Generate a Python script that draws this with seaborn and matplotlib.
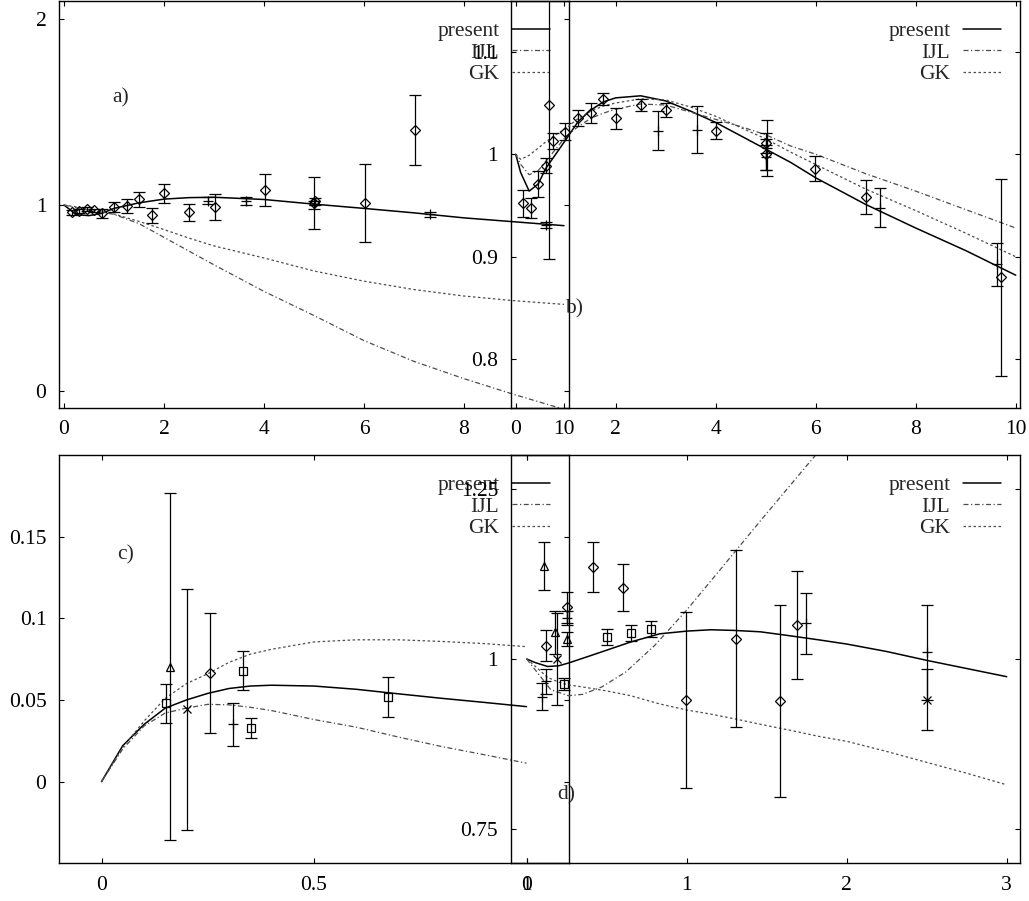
import numpy as np
import matplotlib
matplotlib.use("Agg")
import matplotlib.pyplot as plt
import seaborn as sns

sns.set_style("ticks")
plt.rcParams['font.family'] = ['Liberation Serif', 'DejaVu Serif']
FS = 15.5
plt.rcParams['font.size'] = FS

# ---- panel a) ----
A_X = [0, 0.25, 0.5, 0.75, 1, 1.5, 2, 2.5, 3, 4, 5, 6, 7, 8, 9, 10]
A_PRESENT = [1.0, 0.948, 0.943, 0.955, 0.982, 1.012, 1.032, 1.040, 1.042, 1.03, 1.005, 0.982, 0.958, 0.931, 0.91, 0.889]
A_IJL = [1.0, 0.985, 0.972, 0.962, 0.95, 0.9, 0.826, 0.752, 0.678, 0.535, 0.405, 0.27, 0.158, 0.065, -0.02, -0.1]
A_GK = [1.0, 0.99, 0.977, 0.965, 0.952, 0.912, 0.868, 0.822, 0.78, 0.715, 0.645, 0.59, 0.545, 0.51, 0.485, 0.465]
A_PX = [0.15, 0.3, 0.45, 0.6, 0.75, 1.0, 1.25, 1.5, 1.76, 2.0, 2.5, 2.87, 3.01, 3.63, 4.01, 5.0, 5.0, 5.02, 6.01, 7.01, 7.31, 9.64]
A_PY = [0.96, 0.968, 0.977, 0.971, 0.955, 0.99, 0.995, 1.03, 0.946, 1.063, 0.96, 1.023, 0.99, 1.023, 1.081, 1.01, 1.0, 1.02, 1.012, 1.404, 0.95, 0.892]
A_PE = [0.012, 0.012, 0.01, 0.01, 0.025, 0.025, 0.038, 0.04, 0.04, 0.052, 0.047, 0.018, 0.07, 0.022, 0.085, 0.14, 0.02, 0.02, 0.21, 0.19, 0.015, 0.015]
A_PM = ['D'] * 11 + ['+', 'D', '+', 'D', 'D', '+', 'D', 'D', 'D', '+', '+']

# ---- panel b) ----
B_X = [0, 0.1, 0.27, 0.45, 0.6, 0.8, 1.0, 1.25, 1.5, 1.75, 2.0, 2.5, 3.0, 3.5, 4.0, 4.5, 5.0, 5.5, 6.0, 7.0, 8.0, 9.0, 10.0]
B_PRESENT = [1.0, 0.982, 0.964, 0.971, 0.986, 1.0, 1.014, 1.032, 1.043, 1.051, 1.055, 1.057, 1.052, 1.042, 1.031, 1.018, 1.005, 0.992, 0.977, 0.951, 0.928, 0.906, 0.882]
B_IJL = [1.0, 0.99, 0.98, 0.984, 0.993, 1.005, 1.017, 1.027, 1.035, 1.04, 1.044, 1.049, 1.048, 1.041, 1.034, 1.027, 1.019, 1.008, 1.0, 0.981, 0.964, 0.946, 0.928]
B_GK = [1.0, 0.995, 0.999, 1.006, 1.012, 1.019, 1.025, 1.035, 1.042, 1.047, 1.05, 1.054, 1.053, 1.046, 1.037, 1.026, 1.015, 1.002, 0.99, 0.966, 0.945, 0.923, 0.9]
B_PX = [0.15, 0.3, 0.44, 0.6, 0.67, 0.75, 0.99, 1.24, 1.51, 1.74, 2.0, 2.5, 2.85, 3.0, 3.62, 4.0, 5.0, 5.02, 5.0, 5.0, 5.99, 7.0, 7.29, 9.63, 9.7]
B_PY = [0.952, 0.9475, 0.971, 0.989, 1.048, 1.013, 1.022, 1.035, 1.040, 1.054, 1.035, 1.048, 1.023, 1.043, 1.024, 1.023, 1.011, 1.006, 1.0, 0.997, 0.986, 0.9585, 0.948, 0.8926, 0.88]
B_PE = [0.0134, 0.01, 0.013, 0.007, 0.15, 0.0076, 0.0085, 0.0078, 0.01, 0.006, 0.01, 0.006, 0.0187, 0.007, 0.0227, 0.008, 0.01, 0.027, 0.015, 0.012, 0.0123, 0.0167, 0.019, 0.0207, 0.0963]
B_PM = ['D'] * 12 + ['+', 'D', '+', 'D', 'D', '+', 'D', '+', 'D', 'D', '+', '+', 'D']

# ---- panel c) ----
C_X = [0, 0.05, 0.1, 0.15, 0.2, 0.25, 0.3, 0.35, 0.4, 0.5, 0.6, 0.7, 0.8, 0.9, 1.0]
C_PRESENT = [0, 0.022, 0.035, 0.045, 0.05, 0.054, 0.057, 0.0585, 0.059, 0.0585, 0.0565, 0.0537, 0.051, 0.0485, 0.0459]
C_IJL = [0, 0.02, 0.034, 0.042, 0.045, 0.0473, 0.047, 0.0455, 0.0435, 0.038, 0.0333, 0.0272, 0.0215, 0.0165, 0.0113]
C_GK = [0, 0.021, 0.037, 0.051, 0.06, 0.066, 0.073, 0.078, 0.081, 0.0855, 0.0868, 0.0868, 0.0858, 0.0845, 0.0826]
C_PX = [0.152, 0.161, 0.2, 0.255, 0.31, 0.332, 0.351, 0.673]
C_PY = [0.048, 0.0704, 0.0443, 0.0663, 0.0351, 0.068, 0.033, 0.0518]
C_PE = [0.012, 0.106, 0.0738, 0.0368, 0.013, 0.012, 0.006, 0.012]
C_PM = ['s', '^', 'x', 'D', '+', 's', 's', 's']

# ---- panel d) ----
D_X = [0, 0.05, 0.13, 0.2, 0.26, 0.4, 0.5, 0.65, 0.83, 1.0, 1.15, 1.3, 1.46, 1.65, 1.83, 2.0, 2.25, 2.5, 2.75, 3.0]
D_PRESENT = [1.0, 0.995, 0.989, 0.99, 0.994, 1.005, 1.013, 1.025, 1.037, 1.041, 1.043, 1.042, 1.04, 1.034, 1.028, 1.022, 1.011, 0.998, 0.986, 0.974]
D_GK = [1.0, 0.99, 0.973, 0.966, 0.962, 0.957, 0.953, 0.946, 0.934, 0.925, 0.919, 0.912, 0.904, 0.895, 0.886, 0.879, 0.864, 0.848, 0.832, 0.815]
D_IJL_X = [0, 0.05, 0.15, 0.26, 0.35, 0.47, 0.62, 0.8, 1.0, 1.25, 1.46, 1.77, 1.85]
D_IJL = [1.0, 0.985, 0.955, 0.946, 0.948, 0.959, 0.981, 1.02, 1.072, 1.143, 1.203, 1.29, 1.312]
D_PX = [0.108, 0.12, 0.12, 0.094, 0.177, 0.187, 0.233, 0.25, 0.25, 0.25, 0.416, 0.6, 0.5, 0.65, 0.777, 0.996, 1.306, 1.58, 1.69, 1.744, 2.5, 2.5]
D_PY = [1.137, 1.0196, 0.967, 0.9446, 1.039, 1.0, 0.963, 1.076, 1.06, 1.029, 1.1357, 1.105, 1.032, 1.038, 1.0437, 0.94, 1.03, 0.938, 1.05, 1.0525, 1.01, 0.94]
D_PE = [0.035, 0.0226, 0.018, 0.02, 0.032, 0.067, 0.009, 0.023, 0.01, 0.01, 0.037, 0.035, 0.012, 0.012, 0.0115, 0.129, 0.13, 0.141, 0.08, 0.0446, 0.07, 0.045]
D_PM = ['^', 'D', '+', '+', '^', 'x', 's', 'D', '+', '^', 'D', 'D', 's', 's', 's', 'D', 'D', 'D', 'D', '+', '+', 'x']

# ticks
A_XT = [0, 2, 4, 6, 8, 10]
A_XL = ['0', '2', '4', '6', '8', '10']
A_YT = [0, 1, 2]
A_YL = ['0', '1', '2']
B_YT = [0.8, 0.9, 1.0, 1.1]
B_YL = ['0.8', '0.9', '1', '1.1']
C_XT = [0, 0.5, 1]
C_XL = ['0', '0.5', '1']
C_YT = [0, 0.05, 0.1, 0.15]
C_YL = ['0', '0.05', '0.1', '0.15']
D_XT = [0, 1, 2, 3]
D_XL = ['0', '1', '2', '3']
D_YT = [0.75, 1.0, 1.25]
D_YL = ['0.75', '1', '1.25']

W, H = 1029, 901


def px_rect(x0, y0, x1, y1):
    return [x0 / W, 1 - y1 / H, (x1 - x0) / W, (y1 - y0) / H]


fig = plt.figure(figsize=(W / 100, H / 100), dpi=100)

ax_a = fig.add_axes(px_rect(59, 1, 569, 408))
ax_b = fig.add_axes(px_rect(510.7, 1, 1020, 408))
ax_c = fig.add_axes(px_rect(59, 455, 569, 863))
ax_d = fig.add_axes(px_rect(510.7, 455, 1020, 863))

ijl_ls = (0, (4, 2, 1, 2))
gk_ls = (0, (2, 2))


def curves(ax, x, pres, ijl, gk, ijl_x=None):
    if ijl_x is None:
        ijl_x = x
    sns.lineplot(x=x, y=pres, ax=ax, color='black', lw=1.1, label='present',
                 estimator=None, sort=False, legend=False)
    sns.lineplot(x=ijl_x, y=ijl, ax=ax, color='0.3', lw=0.9, ls=ijl_ls, label='IJL',
                 estimator=None, sort=False, legend=False)
    sns.lineplot(x=x, y=gk, ax=ax, color='0.3', lw=0.9, ls=gk_ls, label='GK',
                 estimator=None, sort=False, legend=False)


def points(ax, px, py, pe, pm):
    px, py, pe, pm = map(np.asarray, (px, py, pe, pm))
    for m in np.unique(pm):
        sel = pm == m
        ms = {'D': 4.8, 's': 5.5, '^': 5.5, 'x': 5.5, '+': 6.5}[m]
        ax.errorbar(px[sel], py[sel], yerr=pe[sel], fmt=m, ms=ms, mfc='none', mec='black',
                    mew=0.9, ecolor='black', elinewidth=0.9, capsize=4.5, capthick=0.9)


def style(ax, xlim, ylim, xt, xl, yt, yl):
    ax.set_facecolor('none')
    ax.set_xlim(*xlim)
    ax.set_ylim(*ylim)
    ax.set_xticks(xt)
    ax.set_xticklabels(xl)
    ax.set_yticks(yt)
    ax.set_yticklabels(yl)
    ax.set_xlabel('')
    ax.set_ylabel('')
    ax.minorticks_off()
    ax.tick_params(direction='in', top=True, right=True, length=3.6, width=0.8,
                   labelsize=FS, colors='black')
    ax.tick_params(axis='x', pad=9)
    ax.tick_params(axis='y', pad=9)
    for s in ax.spines.values():
        s.set_visible(True)
        s.set_linewidth(1.0)
        s.set_color('black')
    ax.legend(loc='upper right', bbox_to_anchor=(0.9627, 0.95), markerfirst=False,
              frameon=False, handlelength=1.75, handletextpad=0.6, borderpad=0,
              borderaxespad=0, labelspacing=0.06, fontsize=FS)


curves(ax_a, A_X, A_PRESENT, A_IJL, A_GK)
points(ax_a, A_PX, A_PY, A_PE, A_PM)
style(ax_a, (-0.1, 10.1), (-0.093, 2.099), A_XT, A_XL, A_YT, A_YL)

curves(ax_b, B_X, B_PRESENT, B_IJL, B_GK)
points(ax_b, B_PX, B_PY, B_PE, B_PM)
style(ax_b, (-0.1, 10.086), (0.7524, 1.1495), A_XT, A_XL, B_YT, B_YL)

curves(ax_c, C_X, C_PRESENT, C_IJL, C_GK)
points(ax_c, C_PX, C_PY, C_PE, C_PM)
style(ax_c, (-0.1, 1.1), (-0.0498, 0.1999), C_XT, C_XL, C_YT, C_YL)

curves(ax_d, D_X, D_PRESENT, D_IJL, D_GK, ijl_x=D_IJL_X)
points(ax_d, D_PX, D_PY, D_PE, D_PM)
style(ax_d, (-0.1, 3.083), (0.7, 1.3), D_XT, D_XL, D_YT, D_YL)

for lab, (x, y) in zip(['a)', 'b)', 'c)', 'd)'], [(112, 98), (565, 309), (117, 555), (557, 795)]):
    fig.text(x / W, 1 - y / H, lab, ha='left', va='center', fontsize=FS)

fig.savefig('out.png', dpi=100)
